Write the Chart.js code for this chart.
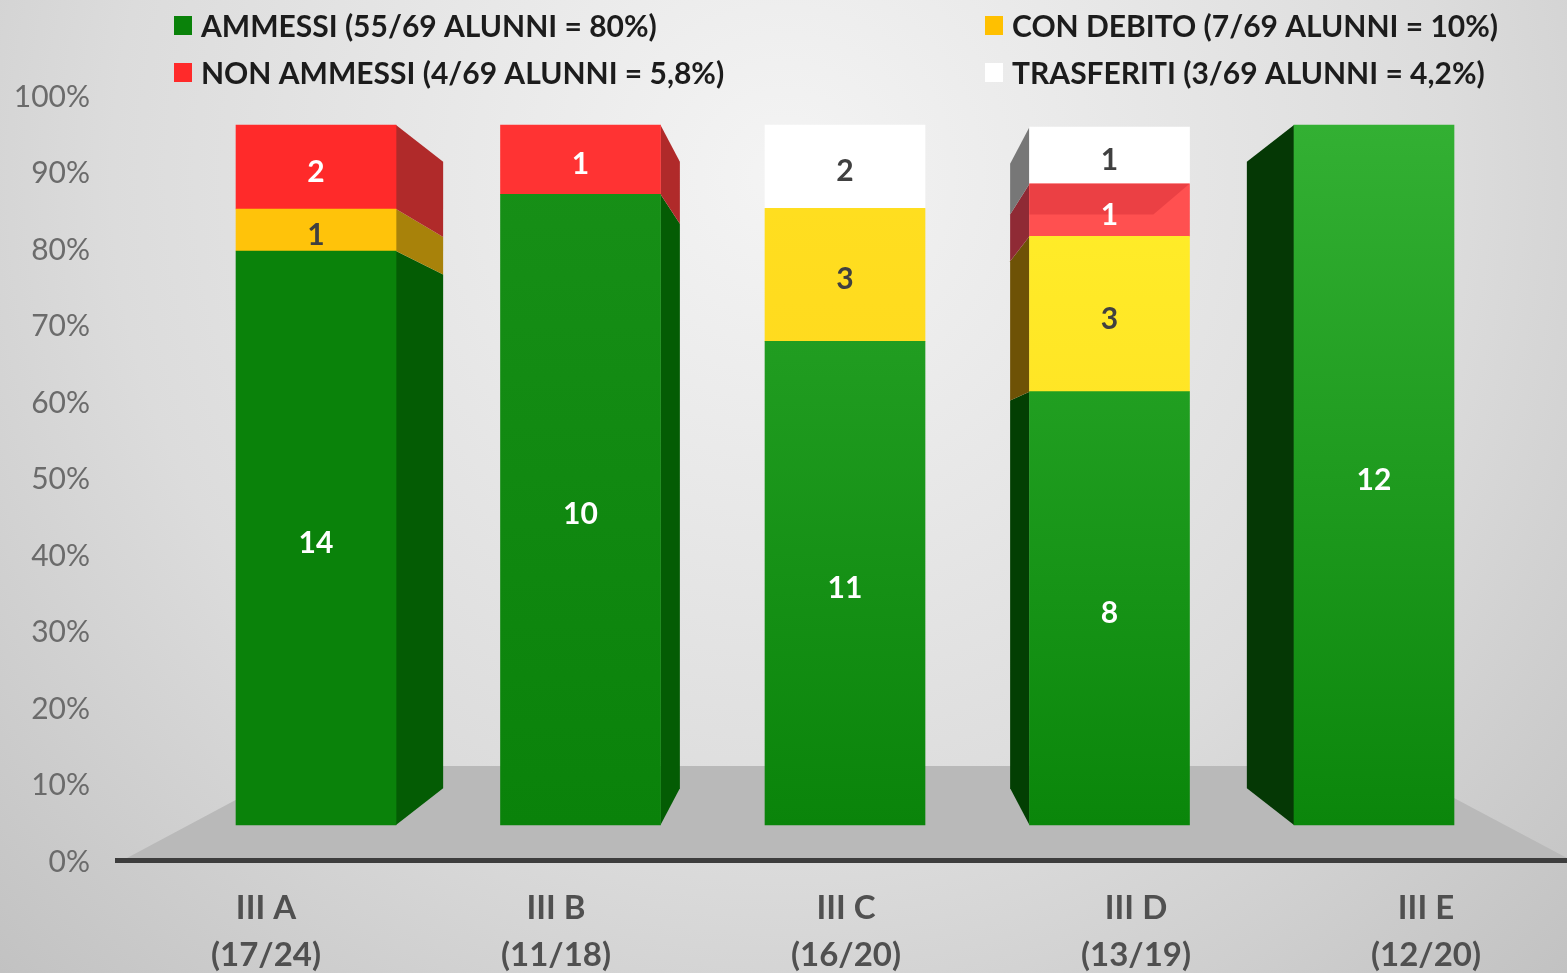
<!DOCTYPE html>
<html>
<head>
<meta charset="utf-8">
<title>Esiti classi terze</title>
<script src="https://cdn.jsdelivr.net/npm/chart.js@4"></script>
<style>
    html, body { margin: 0; padding: 0; }
    body {
        width: 1567px;
        height: 973px;
        overflow: hidden;
        background: radial-gradient(circle farthest-corner at 50% 18%, #f4f4f4 0%, #dcdcdc 60%, #c2c2c2 100%);
    }
    canvas { display: block; filter: blur(0.5px); }
</style>
</head>
<body>
<canvas id="grafico" width="1567" height="973"></canvas>
<script>
// Dati
const classi = [["III A", "(17/24)"], ["III B", "(11/18)"], ["III C", "(16/20)"], ["III D", "(13/19)"], ["III E", "(12/20)"]];
const tickPercento = [0, 10, 20, 30, 40, 50, 60, 70, 80, 90, 100];

// Altezza dei segmenti in percento
const ammessi = [82, 90.1, 69.1, 61.9, 100];
const conDebito = [6, 0, 19, 22.2, 0];
const nonAmmessi = [12, 9.9, 0, 7.5, 0];
const trasferiti = [0, 0, 11.9, 8.1, 0];

// Numero di alunni scritto sui segmenti
const alunniAmmessi = [14, 10, 11, 8, 12];
const alunniDebito = [1, 0, 3, 3, 0];
const alunniNonAmmessi = [2, 1, 0, 1, 0];
const alunniTrasferiti = [0, 0, 2, 1, 0];

const voceAmmessi = "AMMESSI (55/69 ALUNNI = 80%)";
const voceDebito = "CON DEBITO (7/69 ALUNNI = 10%)";
const voceNonAmmessi = "NON AMMESSI (4/69 ALUNNI = 5,8%)";
const voceTrasferiti = "TRASFERITI (3/69 ALUNNI = 4,2%)";

// Colori: [basso, alto] per ogni barra, poi il fianco
const frontiVerde = [["#0a820a", "#0a820a"], ["#0a820a", "#189018"], ["#0a840a", "#2ba82b"], ["#0a860a", "#2fae2f"], ["#0b860b", "#33b033"]];
const frontiGiallo = [["#ffc30a", "#ffc30a"], ["#ffc30a", "#ffc30a"], ["#ffd01c", "#ffe020"], ["#ffd41e", "#fff02a"], ["#ffd01c", "#ffd01c"]];
const frontiRosso = [["#ff2a2a", "#ff2a2a"], ["#ff3333", "#ff3333"], ["#ff3333", "#ff3333"], ["#ff5050", "#ff5050"], ["#ff3333", "#ff3333"]];
const frontiBianco = [["#ffffff", "#ffffff"], ["#ffffff", "#ffffff"], ["#ffffff", "#ffffff"], ["#ffffff", "#ffffff"], ["#ffffff", "#ffffff"]];
const fianchiVerde = ["#045c04", "#045c04", "#045c04", "#033f03", "#053805"];
const fianchiGiallo = ["#a8820a", "#a8820a", "#a8820a", "#6e5206", "#6e5206"];
const fianchiRosso = ["#b02a2a", "#b02a2a", "#b02a2a", "#8f2a35", "#8f2a35"];
const fianchiBianco = ["#777777", "#777777", "#777777", "#777777", "#777777"];

const profondita = 0.105; // quanto rientrano i fianchi verso il punto di fuga
const profPavimento = 0.24;

function fuga(chart) {
    return {
        x: chart.scales.xBar.getPixelForValue(2),
        y: chart.scales.yBar.getPixelForValue(50)
    };
}

function proietta(chart, x, y, k) {
    const f = fuga(chart);
    return { x: x + (f.x - x) * k, y: y + (f.y - y) * k };
}

function poligono(ctx, punti, colore) {
    ctx.fillStyle = colore;
    ctx.beginPath();
    punti.forEach((p, i) => i ? ctx.lineTo(p.x, p.y) : ctx.moveTo(p.x, p.y));
    ctx.closePath();
    ctx.fill();
}

function sfumatura(fronti) {
    return (c) => {
        const col = fronti[c.dataIndex] || fronti[0];
        const y = c.chart.scales.yBar;
        if (!y) return col[0];
        const y0 = y.getPixelForValue(0);
        const y1 = y.getPixelForValue(100);
        // prima del layout la scala non ha ancora pixel validi
        if (!Number.isFinite(y0) || !Number.isFinite(y1)) return col[0];
        const g = c.chart.ctx.createLinearGradient(0, y0, 0, y1);
        g.addColorStop(0, col[0]);
        g.addColorStop(1, col[1]);
        return g;
    };
}

function serie(label, valori, fronti, fianchi, alunni, coloreTesto, coloreLegenda) {
    return {
        label: label,
        // i segmenti a zero non vanno disegnati
        data: valori.map((v, i) => ({ x: i, y: v || null })),
        backgroundColor: sfumatura(fronti),
        borderWidth: 0,
        barThickness: 160,
        xAxisID: "xBar",
        yAxisID: "yBar",
        fianchi: fianchi,
        alunni: alunni,
        coloreTesto: coloreTesto,
        coloreLegenda: coloreLegenda
    };
}

// Pavimento sotto le barre
const pavimento = {
    id: "pavimento",
    beforeDraw(chart) {
        const ctx = chart.ctx;
        const a = chart.chartArea;
        const sx = a.left + 10;
        const sy = a.bottom - 2;
        poligono(ctx, [
            { x: sx, y: sy },
            proietta(chart, sx, sy, profPavimento),
            proietta(chart, a.right, sy, profPavimento),
            { x: a.right, y: sy }
        ], "#b9b9b9");
    }
};

// Fianchi 3D delle barre, presi dagli elementi della libreria
const fianchi = {
    id: "fianchi",
    beforeDatasetsDraw(chart) {
        const ctx = chart.ctx;
        const f = fuga(chart);
        chart.data.datasets.forEach((ds, d) => {
            chart.getDatasetMeta(d).data.forEach((el, i) => {
                if (!ds.alunni[i] || Math.abs(el.x - f.x) < 1) return;
                const xs = el.x < f.x ? el.x + el.width / 2 : el.x - el.width / 2;
                poligono(ctx, [
                    { x: xs, y: el.y },
                    proietta(chart, xs, el.y, profondita),
                    proietta(chart, xs, el.base, profondita),
                    { x: xs, y: el.base }
                ], ds.fianchi[i]);
            });
        });
    }
};

// Numeri sui segmenti e faccia scura del rosso in III D
const etichette = {
    id: "etichette",
    afterDatasetsDraw(chart) {
        const ctx = chart.ctx;
        const rosso = chart.getDatasetMeta(2).data[3];
        const sin = rosso.x - rosso.width / 2;
        const des = rosso.x + rosso.width / 2;
        const p = proietta(chart, des, rosso.y, profondita);
        poligono(ctx, [{ x: sin, y: rosso.y }, { x: des, y: rosso.y }, p, { x: sin, y: p.y }], "#eb4044");

        ctx.font = "bold 30px Lato";
        ctx.textAlign = "center";
        ctx.textBaseline = "middle";
        chart.data.datasets.forEach((ds, d) => {
            chart.getDatasetMeta(d).data.forEach((el, i) => {
                if (!ds.alunni[i]) return;
                ctx.fillStyle = ds.coloreTesto;
                ctx.fillText(ds.alunni[i], el.x, (el.y + el.base) / 2 + 5);
            });
        });
    }
};

// Legenda su due colonne
const legenda = {
    id: "legenda",
    afterDraw(chart) {
        const ctx = chart.ctx;
        const posti = [[174, 26], [985, 26], [174, 73], [985, 73]];
        ctx.font = "bold 30px Lato";
        ctx.textAlign = "left";
        ctx.textBaseline = "middle";
        chart.data.datasets.forEach((ds, d) => {
            const [x, y] = posti[d];
            ctx.fillStyle = ds.coloreLegenda;
            ctx.fillRect(x, y - 10, 18, 19);
            ctx.fillStyle = "#1c1c1c";
            ctx.fillText(ds.label, x + 27, y + 1);
        });
    }
};

new Chart(document.getElementById("grafico"), {
    type: "bar",
    data: {
        labels: classi,
        datasets: [
            serie(voceAmmessi, ammessi, frontiVerde, fianchiVerde, alunniAmmessi, "#ffffff", "#0a820a"),
            serie(voceDebito, conDebito, frontiGiallo, fianchiGiallo, alunniDebito, "#404040", "#ffc000"),
            serie(voceNonAmmessi, nonAmmessi, frontiRosso, fianchiRosso, alunniNonAmmessi, "#ffffff", "#ff2a2a"),
            serie(voceTrasferiti, trasferiti, frontiBianco, fianchiBianco, alunniTrasferiti, "#404040", "#ffffff")
        ]
    },
    options: {
        responsive: false,
        animation: false,
        layout: { padding: { top: 95, left: 0, right: 0, bottom: 0 } },
        plugins: {
            legend: { display: false },
            title: { display: false },
            tooltip: { enabled: false }
        },
        scales: {
            x: {
                type: "category",
                grid: { display: false, drawTicks: false },
                border: { color: "#3d3d3d", width: 5 },
                ticks: {
                    color: "#505050",
                    font: { family: "Lato", size: 33, weight: "bold", lineHeight: 1.42 },
                    padding: 25,
                    labelOffset: 4,
                    autoSkip: false,
                    maxRotation: 0
                },
                afterFit(scale) { scale.height = 113; }
            },
            y: {
                type: "linear",
                min: 0,
                max: 100,
                afterBuildTicks(scale) { scale.ticks = tickPercento.map((v) => ({ value: v })); },
                grid: { display: false, drawTicks: false },
                border: { display: false },
                ticks: {
                    color: "#6b6b6b",
                    font: { family: "Lato", size: 30 },
                    padding: 27,
                    labelOffset: 2,
                    callback: (v) => v + "%"
                },
                afterFit(scale) { scale.width = 117; }
            },
            // Assi nascosti delle barre: il frontale ha una scala sua
            xBar: { type: "linear", axis: "x", display: false, stacked: true, offset: false, min: -0.7524, max: 4.7297 },
            yBar: { type: "linear", axis: "y", display: false, stacked: true, min: -5, max: 104.2857 }
        }
    },
    plugins: [pavimento, fianchi, etichette, legenda]
});
</script>
</body>
</html>
